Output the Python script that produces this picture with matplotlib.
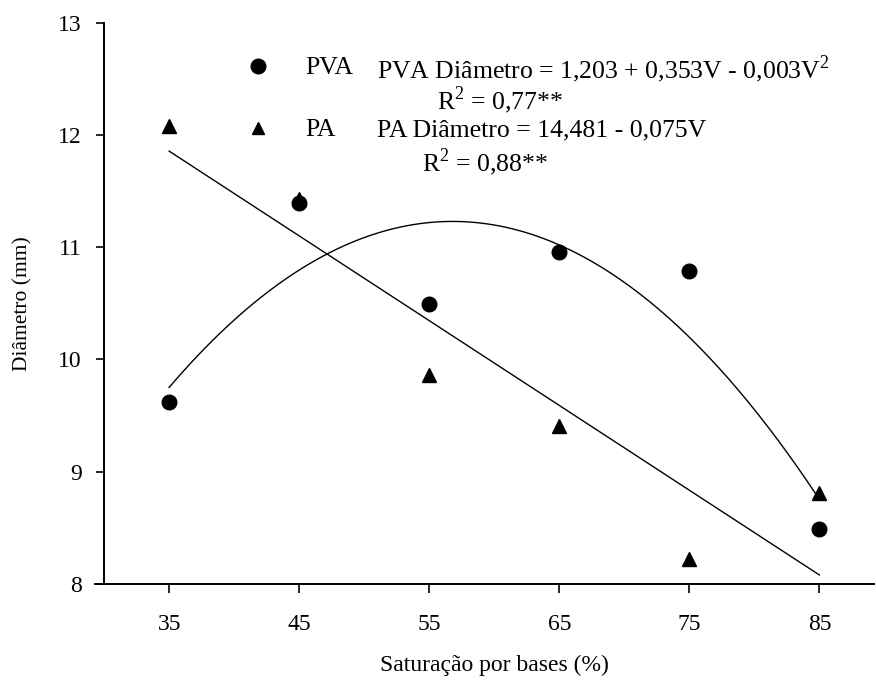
import matplotlib
matplotlib.use('Agg')
import matplotlib.pyplot as plt
from matplotlib.lines import Line2D
import numpy as np

# saturação por bases (%) e diâmetro médio (mm) por solo
saturacao = [35, 45, 55, 65, 75, 85]
diam_pva = [9.62, 11.39, 10.49, 10.96, 10.79, 8.49]
diam_pa = [12.08, 11.43, 9.86, 9.41, 8.22, 8.81]

x_ticks = [35, 45, 55, 65, 75, 85]
y_ticks = [8, 9, 10, 11, 12, 13]

solos = ['PVA', 'PA']
equacoes = ['PVA Diâmetro = 1,203 + 0,353V - 0,003V$^{\\mathrm{2}}$',
            'PA Diâmetro = 14,481 - 0,075V']
r2 = ['R$^{\\mathrm{2}}$ = 0,77**', 'R$^{\\mathrm{2}}$ = 0,88**']

plt.rcParams['font.family'] = 'Liberation Serif'
plt.rcParams['mathtext.fontset'] = 'custom'
plt.rcParams['mathtext.rm'] = 'Liberation Serif'

W, H = 876, 684
fig = plt.figure(figsize=(W / 100, H / 100), dpi=100)
ax = fig.add_axes([95 / W, 1 - 584 / H, 779 / W, 561.3 / H])

# regressões ajustadas aos pontos
v = np.linspace(35, 85, 200)
coef_pva = np.polyfit(saturacao, diam_pva, 2)
coef_pa = np.polyfit(saturacao, diam_pa, 1)
ax.plot(v, np.polyval(coef_pva, v), color='black', lw=1.0)
ax.plot(v, np.polyval(coef_pa, v), color='black', lw=1.0)

ax.plot(saturacao, diam_pva, 'o', color='black', ms=10.5, ls='none')
ax.plot(saturacao, diam_pa, '^', color='black', ms=10, ls='none')

ax.set_xlim(29.3, 89.2)
ax.set_ylim(8, 13)
ax.set_xticks(x_ticks)
ax.set_yticks(y_ticks)

for s in ['top', 'right']:
    ax.spines[s].set_visible(False)
ax.spines['left'].set_position(('data', 30))
for s in ['left', 'bottom']:
    ax.spines[s].set_linewidth(1.4)

ax.tick_params(axis='x', direction='out', length=6.5, width=1.2, pad=15, labelsize=17)
ax.tick_params(axis='y', direction='out', length=6, width=1.2, pad=10, labelsize=17)

ax.set_xlabel('Saturação por bases (%)', fontsize=17)
ax.xaxis.set_label_coords(0.513, -0.127)
ax.set_ylabel('Diâmetro (mm)', fontsize=15.5)
ax.yaxis.set_label_coords(-0.08, 0.5)

# legenda com as equações
marcadores = ['o', '^']
linhas_y = [66, 128]
for i in range(2):
    y = linhas_y[i]
    fig.add_artist(Line2D([258 / W], [1 - y / H], marker=marcadores[i], color='black',
                          ms=10.5 if i == 0 else 9, ls='none'))
    fig.text(305 / W, 1 - y / H, solos[i], fontsize=18.5, va='center_baseline')
    fig.text(377 / W, 1 - y / H, equacoes[i], fontsize=18.5, va='center_baseline')
fig.text(437 / W, 1 - 97 / H, r2[0], fontsize=18.5, va='center_baseline')
fig.text(422 / W, 1 - 159 / H, r2[1], fontsize=18.5, va='center_baseline')

fig.savefig('out.png', dpi=100)
